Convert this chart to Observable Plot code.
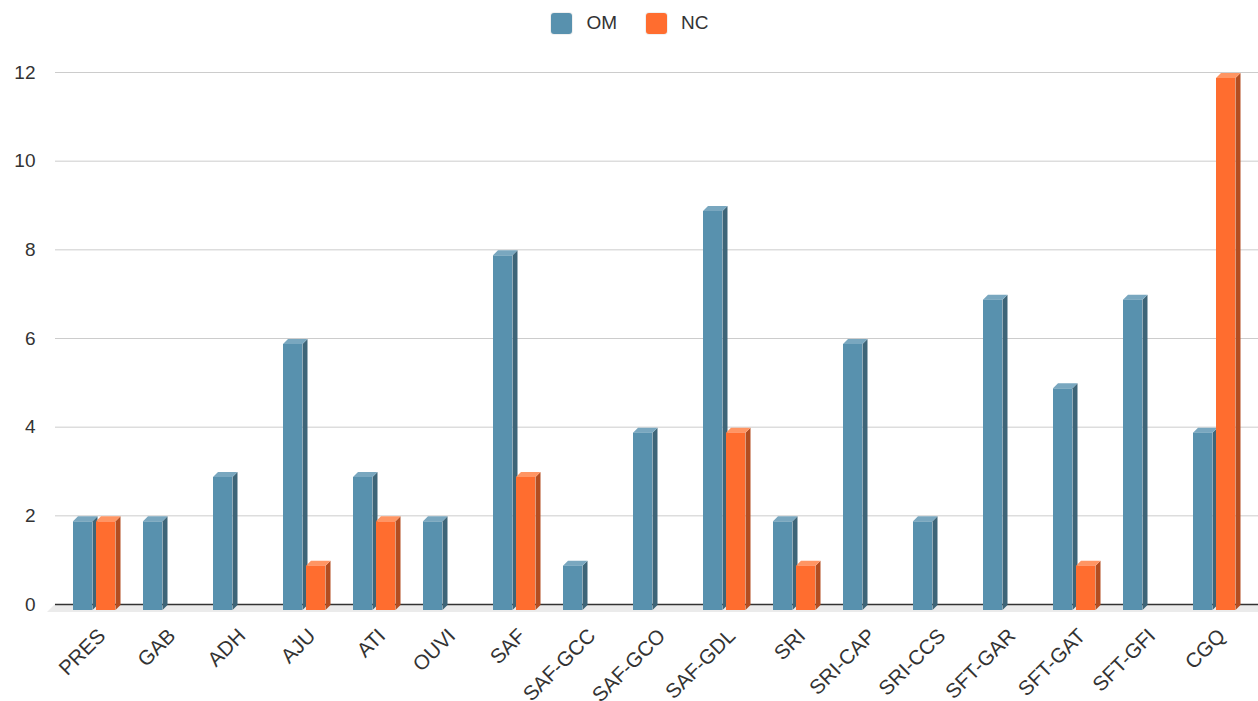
<!DOCTYPE html>
<html>
<head>
<meta charset="utf-8">
<script src="https://cdn.jsdelivr.net/npm/d3@7"></script>
<script src="https://cdn.jsdelivr.net/npm/@observablehq/plot@0.6"></script>
<style>
  body { margin: 0; background: #fff; font-family: "Liberation Sans", Arial, sans-serif; }
  #legend { height: 48px; display: flex; justify-content: center; align-items: flex-start; padding-left: 2px; box-sizing: border-box; }
  .item { display: flex; align-items: center; margin: 12px 14.5px 0 14.5px; font-size: 19px; color: #333; }
  .sw { width: 21px; height: 21px; border-radius: 3px; margin-right: 14px; box-shadow: 0 0 0 1px rgba(0,0,0,0.06); }
</style>
</head>
<body>
<div id="legend"></div>
<div id="chart"></div>
<script>
const categories = ["PRES","GAB","ADH","AJU","ATI","OUVI","SAF","SAF-GCC","SAF-GCO","SAF-GDL","SRI","SRI-CAP","SRI-CCS","SFT-GAR","SFT-GAT","SFT-GFI","CGQ"];
const omValues = [2,2,3,6,3,2,8,1,4,9,2,6,2,7,5,7,4];
const ncValues = [2,0,0,1,2,0,3,0,0,4,1,0,0,0,1,0,12];
const seriesNames = ["OM","NC"];
const yTicks = [0,2,4,6,8,10,12];

const frontColor = {OM: "#5891ae", NC: "#ff6d2f"};
const sideColor  = {OM: "#3e6578", NC: "#b34d20"};
const topColor   = {OM: "#79a7bf", NC: "#ff9563"};

const rows = categories.flatMap((c, i) => [
  {cat: c, series: "OM", value: omValues[i]},
  {cat: c, series: "NC", value: ncValues[i]}
]).filter(d => d.value > 0);

// legend
const legend = document.getElementById("legend");
seriesNames.forEach(s => {
  const it = document.createElement("div"); it.className = "item";
  const sw = document.createElement("div"); sw.className = "sw"; sw.style.background = frontColor[s];
  const tx = document.createElement("span"); tx.textContent = s;
  it.appendChild(sw); it.appendChild(tx); legend.appendChild(it);
});

const BW = (1258 - 55 - 3 - 4) / categories.length;
const W = 19.5, DEPTH = 5, FRONTDY = 6, BACKDY = 1;
const leftOff = {OM: 12, NC: 35};

function floorMark(index, scales, values, dims) {
  const y0 = scales.y(0);
  const g = d3.create("svg:g");
  const l = dims.marginLeft, r = dims.width - dims.marginRight;
  g.append("polygon")
    .attr("points", [[l, y0], [r, y0], [r, y0 + 8], [l - 8, y0 + 8]].map(p => p.join(",")).join(" "))
    .attr("fill", "#ebebeb");
  return g.node();
}

function depthMark(index, scales) {
  const g = d3.create("svg:g");
  const y0 = scales.y(0);
  for (const d of rows) {
    const xl = scales.x(d.cat) + leftOff[d.series];
    const xr = xl + W;
    const yv = scales.y(d.value);
    g.append("polygon")
      .attr("points", [[xr, yv + FRONTDY], [xr + DEPTH, yv + BACKDY], [xr + DEPTH, y0 + BACKDY], [xr, y0 + FRONTDY]].map(p => p.join(",")).join(" "))
      .attr("fill", sideColor[d.series]);
    g.append("polygon")
      .attr("points", [[xl, yv + FRONTDY], [xl + DEPTH, yv + BACKDY], [xr + DEPTH, yv + BACKDY], [xr, yv + FRONTDY]].map(p => p.join(",")).join(" "))
      .attr("fill", topColor[d.series]);
  }
  return g.node();
}

const chart = Plot.plot({
  width: 1258,
  height: 653,
  marginTop: 24,
  marginBottom: 97,
  marginLeft: 55,
  marginRight: 0,
  style: {fontFamily: "'Liberation Sans', Arial, sans-serif", background: "#fff"},
  x: {type: "band", domain: categories, padding: 0, insetLeft: 3, insetRight: 4, axis: null},
  y: {domain: [0, 12], axis: null},
  marks: [
    floorMark,
    Plot.ruleY(yTicks.filter(t => t > 0), {stroke: "#cccccc", strokeWidth: 1}),
    Plot.ruleY([0], {stroke: "#333333", strokeWidth: 1.5}),
    depthMark,
    Plot.barY(rows.filter(d => d.series === "OM"), {x: "cat", y1: 0, y2: "value", dy: FRONTDY, fill: frontColor.OM, insetLeft: leftOff.OM, insetRight: BW - leftOff.OM - W}),
    Plot.barY(rows.filter(d => d.series === "NC"), {x: "cat", y1: 0, y2: "value", dy: FRONTDY, fill: frontColor.NC, insetLeft: leftOff.NC, insetRight: BW - leftOff.NC - W}),
    Plot.text(yTicks, {y: d => d, frameAnchor: "left", dx: -20, textAnchor: "end", fontSize: 19, fill: "#333"}),
    Plot.text(categories, {x: d => d, y: 0, dy: 28, dx: 5.5, rotate: -45, textAnchor: "end", fontSize: 20.5, fill: "#333"})
  ]
});
document.getElementById("chart").appendChild(chart);
</script>
</body>
</html>
